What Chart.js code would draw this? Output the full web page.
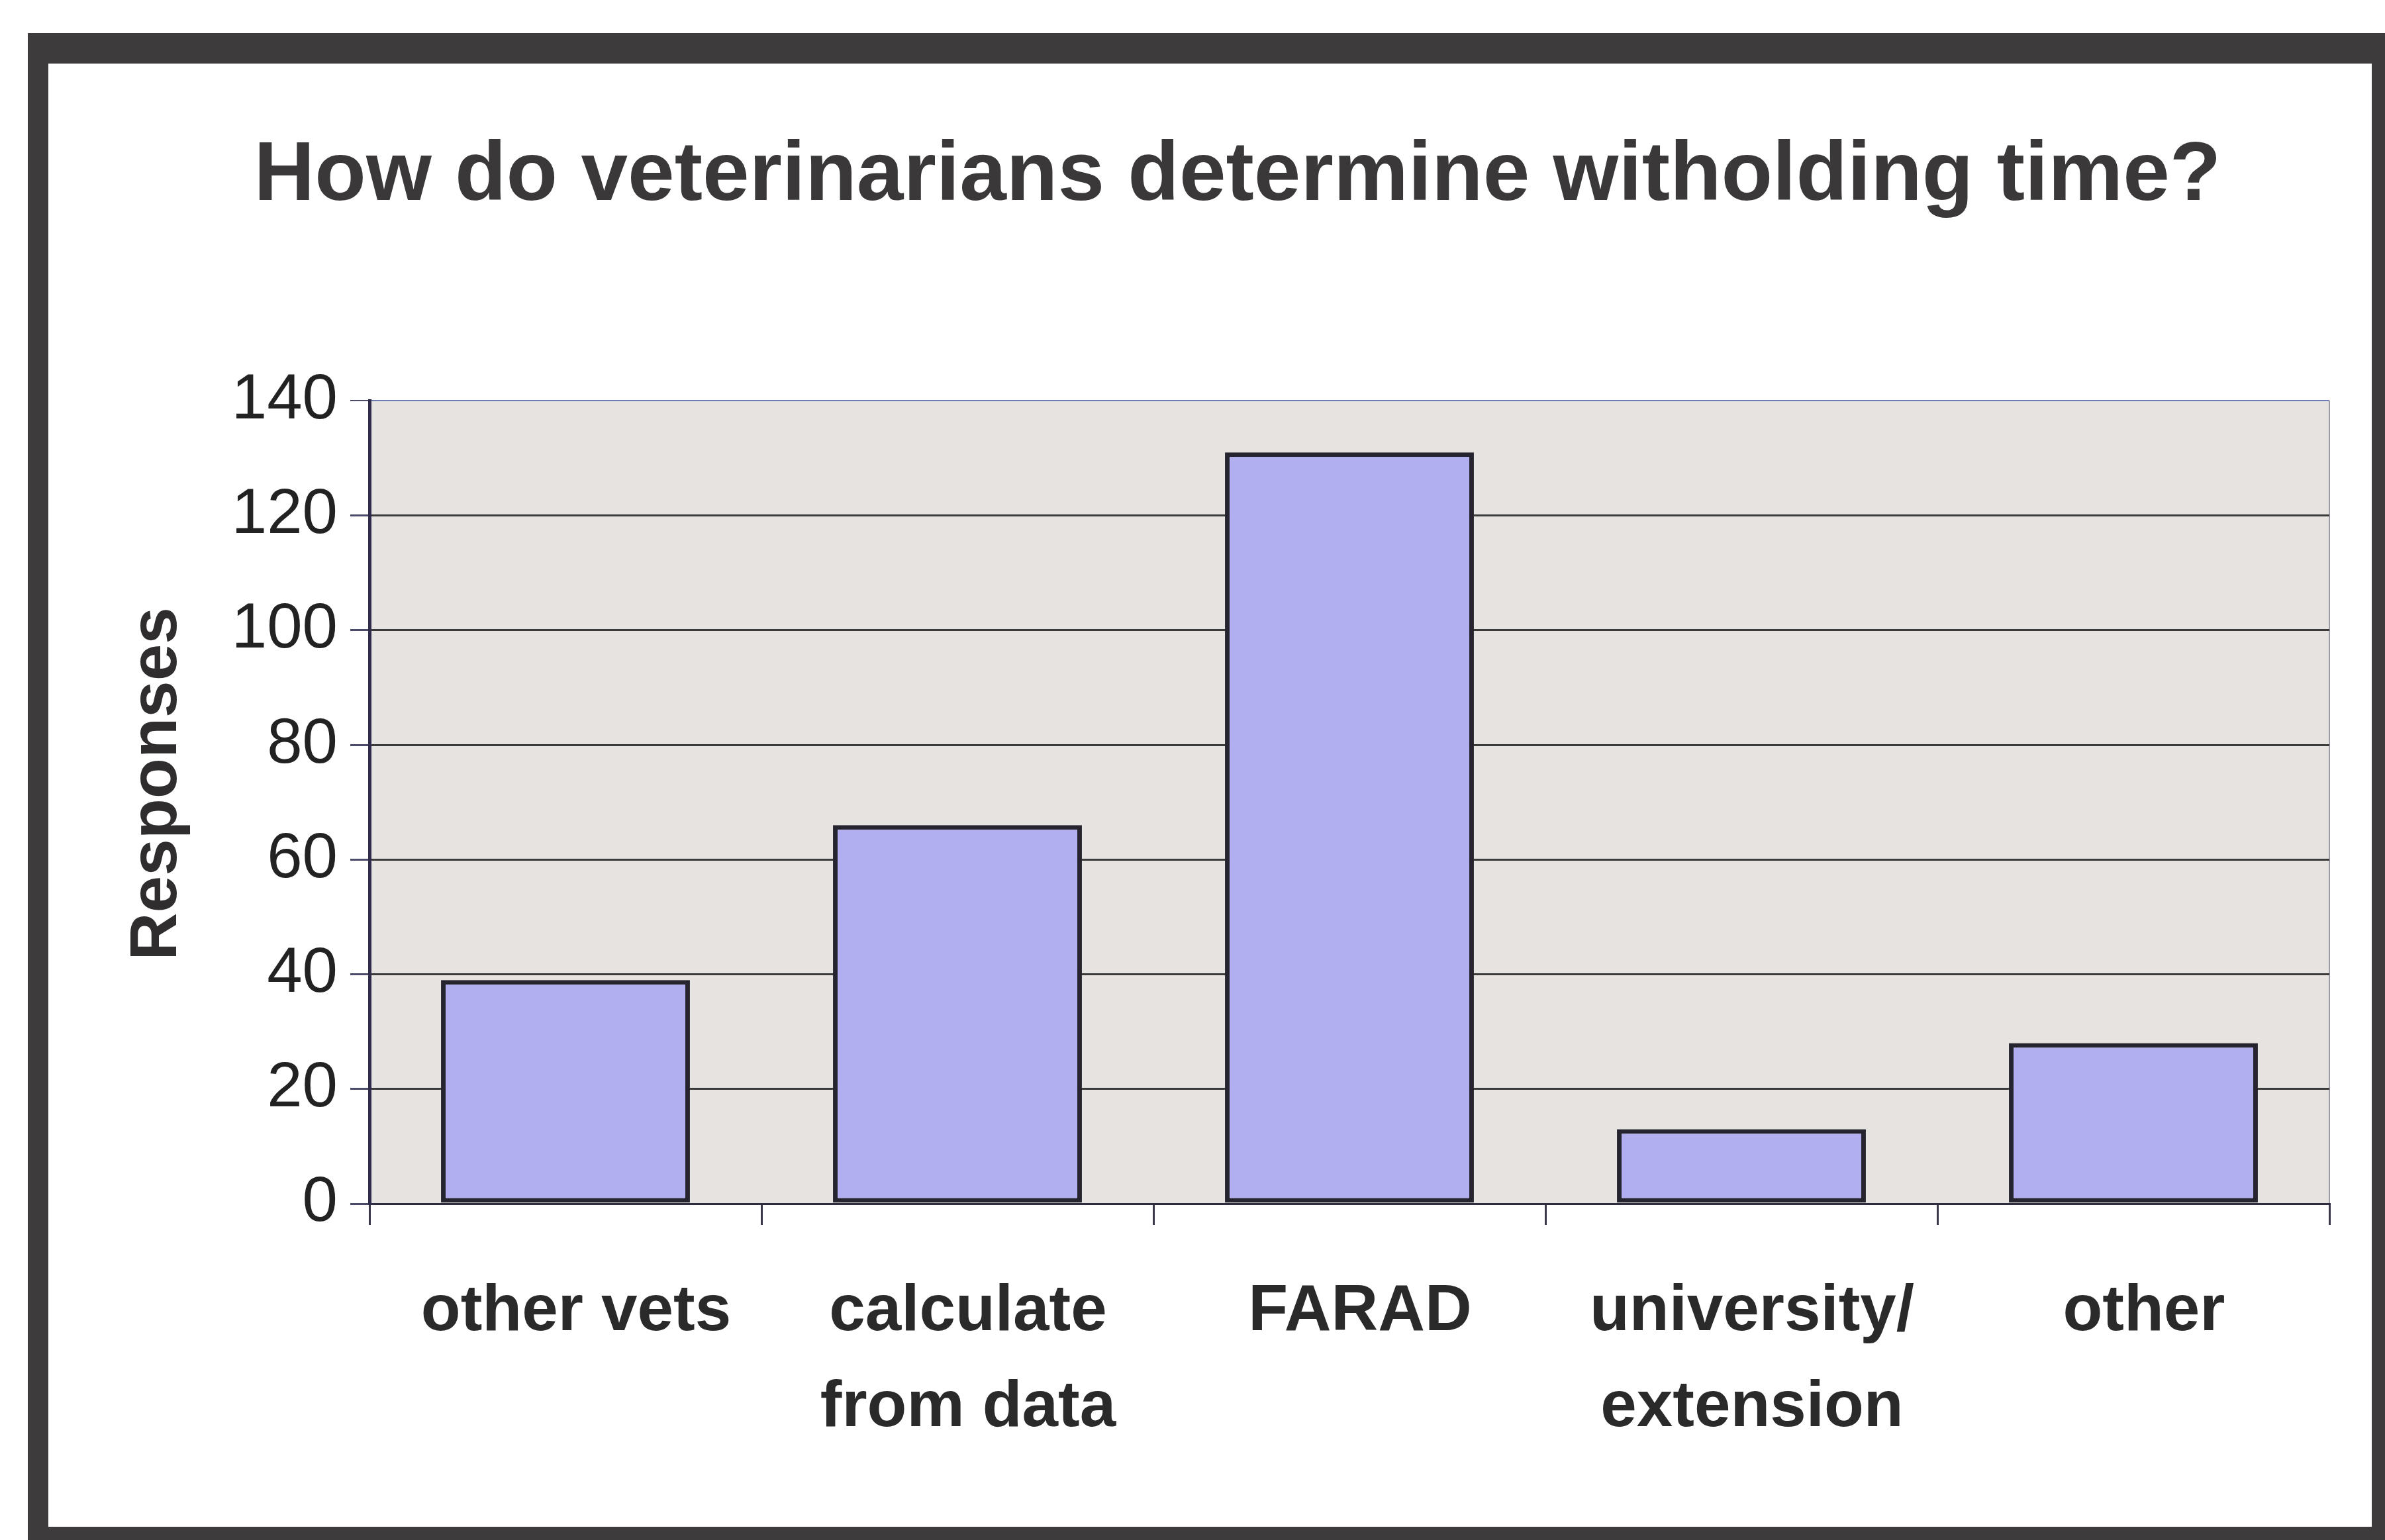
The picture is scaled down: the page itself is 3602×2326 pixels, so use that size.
<!DOCTYPE html>
<html>
<head>
<meta charset="utf-8">
<script src="https://cdn.jsdelivr.net/npm/chart.js@4/dist/chart.umd.min.js"></script>
<style>
  body { margin: 0; background: #fff; }
  canvas { display: block; }
</style>
</head>
<body>
<canvas id="withholding" width="3602" height="2326"></canvas>
<script>
const categories = [
    ['other vets'],
    ['calculate', 'from data'],
    ['FARAD'],
    ['university/', 'extension'],
    ['other']
];
const responses = [39, 66, 131, 13, 28];
const yMin = 0;
const yMax = 140;
const yStep = 20;

const fontFamily = "'Liberation Sans', Arial, sans-serif";

// scanned-page frame + grey plot background
const backdrop = {
    id: 'backdrop',
    beforeDraw(chart) {
        const c = chart.ctx;
        const a = chart.chartArea;
        c.save();
        c.fillStyle = '#ffffff';
        c.fillRect(0, 0, chart.width, chart.height);
        c.fillStyle = '#3d3b3b';
        c.fillRect(42, 50, chart.width - 42, chart.height - 50);
        c.fillStyle = '#ffffff';
        c.fillRect(73, 96, 3582 - 73, 2306 - 96);
        c.fillStyle = '#e6e3e0';
        c.fillRect(a.left, a.top, a.right - a.left, a.bottom - a.top);
        c.strokeStyle = '#9c9aa6';
        c.lineWidth = 2;
        c.beginPath();
        c.moveTo(a.right, a.top);
        c.lineTo(a.right, a.bottom);
        c.stroke();
        c.restore();
    }
};

var ctx = document.getElementById('withholding').getContext('2d');
var withholdingChart = new Chart(ctx, {
    type: 'bar',
    data: {
        labels: categories,
        datasets: [{
            label: 'Responses',
            data: responses,
            backgroundColor: '#b2aff0',
            borderColor: '#26242e',
            borderWidth: 7,
            borderSkipped: false,
            categoryPercentage: 1,
            barPercentage: 0.635
        }]
    },
    options: {
        responsive: false,
        animation: false,
        layout: {
            padding: { top: 0, left: 220, right: 84, bottom: 108 }
        },
        plugins: {
            legend: { display: false },
            tooltip: { enabled: false },
            title: {
                display: true,
                text: 'How do veterinarians determine witholding time?',
                color: '#3a3838',
                font: { family: fontFamily, size: 127, weight: 'bold', lineHeight: 1.2 },
                padding: { top: 191, bottom: 262 }
            }
        },
        scales: {
            x: {
                afterFit: (scale) => { scale.height = 400; },
                grid: {
                    drawOnChartArea: false,
                    drawTicks: true,
                    tickLength: 32,
                    tickColor: '#3a3848',
                    lineWidth: 3
                },
                border: { display: true, color: '#2e2c40', width: 3 },
                ticks: {
                    color: '#2a2a2a',
                    padding: 59,
                    labelOffset: 16,
                    maxRotation: 0,
                    autoSkip: false,
                    font: { family: fontFamily, size: 98, weight: 'bold', lineHeight: 1.48 }
                }
            },
            y: {
                min: yMin,
                max: yMax,
                afterFit: (scale) => { scale.width = 558 - 220; },
                ticks: {
                    stepSize: yStep,
                    color: '#222222',
                    padding: 19,
                    font: { family: fontFamily, size: 96 }
                },
                grid: {
                    color: (c) => c.tick && c.tick.value === yMax ? '#6f7bb0' : '#3a3a3a',
                    lineWidth: (c) => c.tick && c.tick.value === yMax ? 2 : 3,
                    tickLength: 29,
                    tickColor: '#4a4a6a'
                },
                border: { display: true, color: '#2e2c4a', width: 5 },
                title: {
                    display: true,
                    text: '  Responses',
                    color: '#2f2d2d',
                    font: { family: fontFamily, size: 100, weight: 'bold', lineHeight: 0.37 },
                    padding: { top: 0, bottom: 0 }
                }
            }
        }
    },
    plugins: [backdrop]
});
</script>
</body>
</html>
